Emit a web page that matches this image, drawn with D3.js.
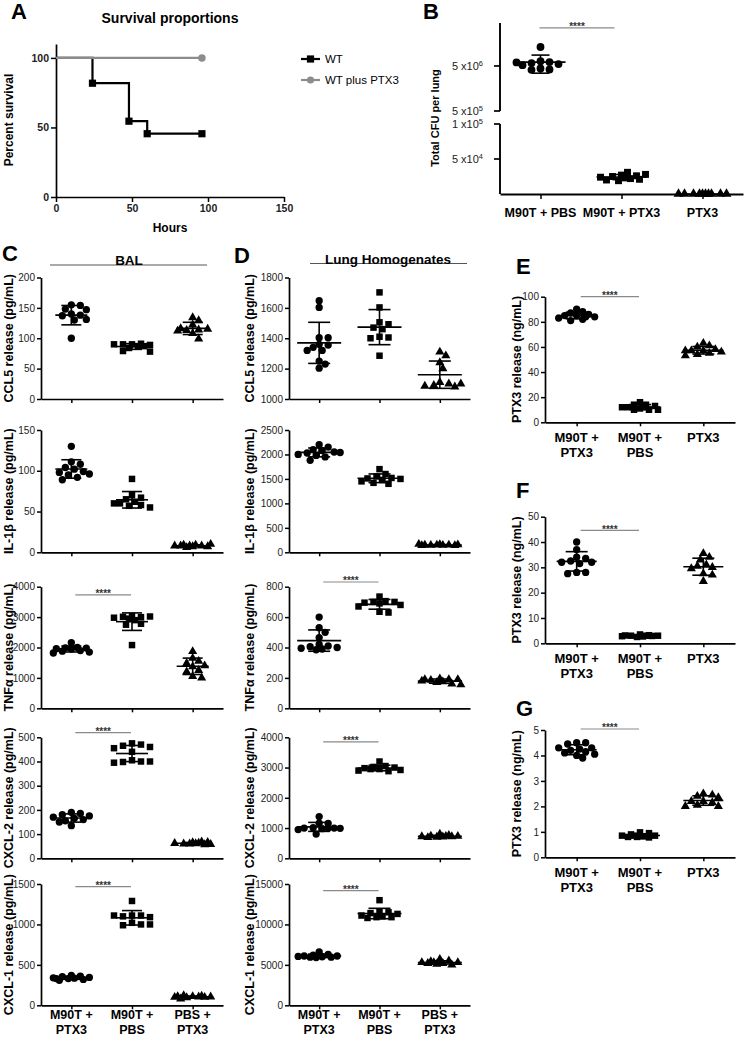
<!DOCTYPE html>
<html>
<head>
<meta charset="utf-8">
<script src="https://cdn.jsdelivr.net/npm/d3@7"></script>
<style>
  body { margin: 0; background: #fff; }
  svg { display: block; font-family: 'Liberation Sans', Arial, Helvetica, sans-serif; }
</style>
</head>
<body>
<div id="chart"></div>
<script>
// Values

// A: survival curves
const survHours = [0, 24, 48, 60, 96];
const survWT = [100, 81.8, 54.5, 45.5, 45.5];
const survPTX3Hours = [0, 96];
const survPTX3 = [100, 100];
const survTicksX = [0, 50, 100, 150];
const survTicksY = [0, 50, 100];

// B: CFU per lung
const cfuGroups = ['M90T + PBS', 'M90T + PTX3', 'PTX3'];
const cfuPBS = [13.2e6, 6.4e6, 6.1e6, 5.8e6, 5.5e6, 5.2e6, 4.4e6, 4.2e6, 4.1e6, 6.0e6];
const cfuM90TPTX3 = [27e3, 31e3, 25e3, 22e3, 20e3, 21e3, 24e3, 28e3, 23e3, 19e3, 26e3];
const cfuPTX3 = [0, 0, 0, 0, 0, 0, 0, 0, 0, 0];
const cfuTicksUpper = [5e5, 5e6];
const cfuTicksLower = [5e4, 1e5];

// C: BAL cytokines (groups: M90T+PTX3, M90T+PBS, PBS+PTX3)
const cytoGroups = [['M90T +', 'PTX3'], ['M90T +', 'PBS'], ['PBS +', 'PTX3']];
const balCCL5 = [
  [155, 154, 148, 147, 140, 138, 137, 131, 130, 100],
  [90, 91, 90, 89, 90, 86, 87, 84, 79, 78],
  [134, 129, 122, 114, 113, 115, 112, 116, 108, 99]
];
const balIL1b = [
  [130, 111, 108, 104, 102, 99, 98, 95, 92, 89, 96],
  [90, 70, 67, 65, 62, 60, 58, 57, 55, 60],
  [7, 8, 9, 10, 8, 7, 6, 9, 8, 8]
];
const balTNFa = [
  [2160, 2000, 1990, 1980, 1960, 1950, 1900, 1880, 1850, 1820],
  [3030, 3000, 3010, 3020, 2980, 2900, 2950, 2750, 2780, 2080],
  [1870, 1650, 1550, 1480, 1400, 1370, 1250, 1200, 1050, 1000]
];
const balCXCL2 = [
  [190, 185, 180, 175, 170, 165, 160, 155, 150, 135],
  [475, 470, 465, 460, 455, 440, 405, 400, 398, 400, 395],
  [65, 68, 60, 58, 62, 63, 57, 60, 66, 61]
];
const balCXCL1 = [
  [370, 360, 355, 345, 340, 335, 330, 320, 310, 330],
  [1290, 1110, 1110, 1100, 1090, 1110, 1020, 1000, 990, 1000],
  [110, 115, 120, 105, 100, 95, 80, 110, 105, 100]
];

// D: lung homogenate cytokines
const lungCCL5 = [
  [1647, 1603, 1404, 1404, 1360, 1355, 1340, 1320, 1320, 1250, 1230, 1203],
  [1702, 1603, 1505, 1492, 1470, 1460, 1410, 1405, 1400, 1285],
  [1310, 1285, 1240, 1200, 1110, 1100, 1090, 1080, 1085, 1100]
];
const lungIL1b = [
  [2200, 2150, 2100, 2080, 2050, 2030, 2000, 1980, 1950, 1880, 2040],
  [1700, 1600, 1550, 1520, 1510, 1500, 1480, 1450, 1420, 1400],
  [160, 150, 145, 155, 140, 150, 165, 145, 150, 140]
];
const lungTNFa = [
  [600, 530, 500, 465, 420, 410, 405, 400, 395, 390, 385],
  [735, 705, 700, 700, 695, 690, 680, 670, 635, 630],
  [195, 190, 185, 190, 180, 175, 170, 160, 155, 190]
];
const lungCXCL2 = [
  [1380, 1160, 1150, 1010, 1000, 1000, 990, 980, 950, 800, 1000],
  [3200, 3050, 3020, 3000, 2980, 2950, 2920, 2900, 2880, 2950],
  [800, 760, 740, 730, 720, 710, 700, 720, 730, 690]
];
const lungCXCL1 = [
  [6600, 6300, 6200, 6100, 6100, 6050, 6000, 5950, 5900, 5950],
  [13000, 11600, 11500, 11400, 11300, 11100, 11000, 10900, 10900, 10800],
  [5700, 5500, 5400, 5300, 5300, 5200, 5100, 5000, 5200, 5300]
];

// E, F, G: PTX3 release (groups: M90T+PTX3, M90T+PBS, PTX3)
const ptx3Groups = [['M90T +', 'PTX3'], ['M90T +', 'PBS'], ['PTX3']];
const ptx3E = [
  [90, 88, 87, 86, 85, 85, 84, 83, 82, 81, 84],
  [16, 14, 14, 13, 12, 12, 11, 10, 10, 10, 12],
  [63, 61, 60, 58, 57, 57, 56, 55, 54, 53, 57]
];
const ptx3F = [
  [40, 37, 34, 33.5, 32.5, 32, 32, 31.5, 28, 28, 27.5],
  [3.5, 3.2, 3, 3, 2.8, 2.7, 2.5, 3.1, 2.9, 3],
  [35.5, 34, 33, 31, 30.5, 30, 29.5, 27.5, 27, 24.5]
];
const ptx3G = [
  [4.5, 4.5, 4.45, 4.3, 4.25, 4.2, 4.15, 4.1, 4.05, 4.0, 3.9, 4.3],
  [0.98, 0.95, 0.9, 0.85, 0.85, 0.82, 0.8, 0.78, 0.8, 0.85],
  [2.5, 2.45, 2.4, 2.35, 2.2, 2.2, 2.15, 2.05, 2.0, 2.0]
];

const svg = d3.select('#chart')
  .append('svg')
  .attr('width', 746)
  .attr('height', 1038);

svg.append('rect').attr('width', 746).attr('height', 1038).attr('fill', '#fff');

const shapes = [d3.symbolCircle, d3.symbolSquare, d3.symbolTriangle];
const shapeSizes = [42, 42, 36];
const tickColor = '#222';
const sigColor = '#8a8a8a';
const plainNum = d3.format('d');

// Shared axis styling
function styleAxis(g, fontSize, weight) {
  g.attr('font-family', null).attr('font-size', null);
  g.select('.domain').attr('stroke', '#000').attr('stroke-width', 1.7);
  g.selectAll('.tick line').attr('stroke', '#000').attr('stroke-width', 1.5);
  g.selectAll('.tick text')
    .style('font-size', fontSize + 'px')
    .style('font-weight', weight)
    .attr('fill', tickColor);
}

function panelLetter(letter, x, y) {
  svg.append('text')
    .attr('x', x).attr('y', y)
    .style('font-size', '22px').style('font-weight', '700')
    .text(letter);
}

function yLabel(text, x, cy, size) {
  svg.append('text')
    .attr('transform', `translate(${x},${cy}) rotate(-90)`)
    .attr('text-anchor', 'middle')
    .attr('dy', '0.35em')
    .style('font-size', size + 'px').style('font-weight', '700')
    .text(text);
}

// Spread points sideways so they do not sit on top of each other
function dodge(ys, minDist, step, maxHalf) {
  const placed = [];
  return ys.map(py => {
    let best = 0, bestScore = -1;
    for (let k = 0; k * step <= maxHalf; k++) {
      const opts = k === 0 ? [0] : [k * step, -k * step];
      for (const dx of opts) {
        const d = placed.length ? d3.min(placed, p => Math.hypot(p[0] - dx, p[1] - py)) : Infinity;
        if (d >= minDist) { placed.push([dx, py]); return dx; }
        if (d > bestScore) { bestScore = d; best = dx; }
      }
    }
    placed.push([best, py]);
    return best;
  });
}

// Mean line with SD whiskers
function meanSD(g, cx, yMean, yHi, yLo, meanW, capW) {
  [[cx - meanW / 2, yMean, cx + meanW / 2, yMean],
   [cx, yHi, cx, yLo],
   [cx - capW / 2, yHi, cx + capW / 2, yHi],
   [cx - capW / 2, yLo, cx + capW / 2, yLo]].forEach(l => {
    g.append('line')
      .attr('x1', l[0]).attr('y1', l[1]).attr('x2', l[2]).attr('y2', l[3])
      .attr('stroke', '#000').attr('stroke-width', 1.6);
  });
}

function sigBar(g, x1, x2, y) {
  g.append('line')
    .attr('x1', x1).attr('x2', x2).attr('y1', y).attr('y2', y)
    .attr('stroke', sigColor).attr('stroke-width', 1.2);
  g.append('text')
    .attr('x', (x1 + x2) / 2).attr('y', y + 2.5)
    .attr('text-anchor', 'middle')
    .style('font-size', '10px').style('font-weight', '700')
    .attr('fill', '#333')
    .text('****');
}

// ---------- Panel A ----------
(function() {
  const x = d3.scaleLinear().domain([0, 150]).range([56, 284]);
  const y = d3.scaleLinear().domain([0, 110]).range([197, 44]);

  const xAxis = svg.append('g').attr('transform', 'translate(0,197)')
    .call(d3.axisBottom(x).tickValues(survTicksX).tickSize(5).tickSizeOuter(0).tickPadding(3));
  styleAxis(xAxis, 10.5, 700);
  const yAxis = svg.append('g').attr('transform', 'translate(56,0)')
    .call(d3.axisLeft(y).tickValues(survTicksY).tickSize(5).tickSizeOuter(0).tickPadding(2));
  styleAxis(yAxis, 10.5, 700);

  const line = d3.line().curve(d3.curveStepAfter).x(d => x(d[0])).y(d => y(d[1]));

  const wt = survHours.map((h, i) => [h, survWT[i]]);
  svg.append('path').attr('d', line(wt))
    .attr('fill', 'none').attr('stroke', '#000').attr('stroke-width', 2.2);
  svg.selectAll('.wt-pt').data(wt.slice(1)).enter().append('path')
    .attr('d', d3.symbol().type(d3.symbolSquare).size(52))
    .attr('transform', d => `translate(${x(d[0])},${y(d[1])})`);

  const ptx = survPTX3Hours.map((h, i) => [h, survPTX3[i]]);
  svg.append('path').attr('d', line(ptx))
    .attr('fill', 'none').attr('stroke', '#8c8c8c').attr('stroke-width', 2.2);
  svg.selectAll('.ptx-pt').data(ptx.slice(1)).enter().append('path')
    .attr('d', d3.symbol().type(d3.symbolCircle).size(44))
    .attr('fill', '#8c8c8c')
    .attr('transform', d => `translate(${x(d[0])},${y(d[1])})`);

  svg.append('text').attr('x', 170).attr('y', 23).attr('text-anchor', 'middle')
    .style('font-size', '14px').style('font-weight', '700').text('Survival proportions');
  svg.append('text').attr('x', 170).attr('y', 232).attr('text-anchor', 'middle')
    .style('font-size', '12px').style('font-weight', '700').text('Hours');
  yLabel('Percent survival', 9, 120, 12);
  panelLetter('A', 11, 19);

  // legend
  const legend = [
    { name: 'WT', color: '#000', shape: d3.symbolSquare, size: 52, y: 59 },
    { name: 'WT plus PTX3', color: '#8c8c8c', shape: d3.symbolCircle, size: 40, y: 80 }
  ];
  legend.forEach(d => {
    svg.append('line').attr('x1', 301).attr('x2', 320).attr('y1', d.y).attr('y2', d.y)
      .attr('stroke', d.color).attr('stroke-width', 2.2);
    svg.append('path').attr('d', d3.symbol().type(d.shape).size(d.size)())
      .attr('fill', d.color).attr('transform', `translate(310.5,${d.y})`);
    svg.append('text').attr('x', 325).attr('y', d.y).attr('dy', '0.35em')
      .style('font-size', '11.5px').text(d.name);
  });
})();

// ---------- Panel B ----------
(function() {
  const left = 500, right = 743;
  const x = d3.scalePoint().domain([0, 1, 2]).range([left, right]).padding(0.5);
  const yLog = d3.scaleLog().domain([5e5, 4.5e7]).range([111, 23]);
  const yLin = d3.scaleLinear().domain([0, 1e5]).range([194, 124]);
  const y = v => v >= 5e5 ? yLog(v) : yLin(v);
  const g = svg.append('g');

  // broken y axis
  [yLog.range(), yLin.range()].forEach(r => {
    g.append('line').attr('x1', left).attr('x2', left).attr('y1', r[0]).attr('y2', r[1])
      .attr('stroke', '#000').attr('stroke-width', 1.9);
  });
  const ticks = cfuTicksUpper.map(v => [v, yLog(v)]).concat(cfuTicksLower.map(v => [v, yLin(v)]));
  ticks.forEach(t => {
    g.append('line').attr('x1', left - 6).attr('x2', left).attr('y1', t[1]).attr('y2', t[1])
      .attr('stroke', '#000').attr('stroke-width', 1.7);
    const exp = Math.floor(Math.log10(t[0]));
    const mant = Math.round(t[0] / Math.pow(10, exp));
    const txt = g.append('text').attr('x', left - 17).attr('y', t[1]).attr('dy', '0.35em')
      .attr('text-anchor', 'end').attr('fill', tickColor).style('font-size', '11px');
    txt.append('tspan').text(mant + ' x10');
    txt.append('tspan').attr('dy', '-4').style('font-size', '7.5px').text(exp);
  });

  const xAxis = g.append('g').attr('transform', 'translate(0,194)')
    .call(d3.axisBottom(x).tickSize(5).tickSizeOuter(0).tickFormat(''));
  styleAxis(xAxis, 10, 400);
  xAxis.select('.domain').attr('stroke-width', 1.9);

  const groups = [cfuPBS, cfuM90TPTX3, cfuPTX3];
  groups.forEach((vals, gi) => {
    const dx = dodge(vals.map(y), 6.5, 3, 24);
    g.selectAll(null).data(vals).enter().append('path')
      .attr('d', d3.symbol().type(shapes[gi]).size(shapeSizes[gi] + 6))
      .attr('transform', (d, i) => `translate(${x(gi) + dx[i]},${y(d)})`);
    const m = d3.mean(vals), sd = d3.deviation(vals);
    meanSD(g, x(gi), y(m), y(m + sd), y(Math.max(m - sd, 0)), 50, 18);
  });

  sigBar(g, x(0) - 1, x(1) - 7, yLog(3.5e7));

  cfuGroups.forEach((name, i) => {
    g.append('text').attr('x', x(i)).attr('y', 216.5).attr('text-anchor', 'middle')
      .style('font-size', '12.5px').style('font-weight', '700').text(name);
  });
  yLabel('Total CFU per lung', 435, 118, 11);
  panelLetter('B', 423, 19);
})();

// ---------- Dot plot panels C to G ----------
const colC = { left: 41, right: 223, yLabelX: 9, meanW: 32, capW: 20, spread: 20, labelSize: 12.5 };
const colD = { left: 289, right: 470, yLabelX: 250, meanW: 44, capW: 22, spread: 22, labelSize: 12.5 };
const colE = { left: 545, right: 735, yLabelX: 517, meanW: 40, capW: 22, spread: 20, labelSize: 12.5 };
const rowsCD = [[277.5, 399], [430, 552.3], [586.7, 708.3], [737.3, 858.3], [884, 1005.3]];

function drawDotPanel(p) {
  const g = svg.append('g');
  const x = d3.scalePoint().domain([0, 1, 2]).range([p.col.left, p.col.right]).padding(0.5);
  const y = d3.scaleLinear().domain(p.domain).range([p.row[1], p.row[0]]);

  const yAxis = g.append('g').attr('transform', `translate(${p.col.left},0)`)
    .call(d3.axisLeft(y).tickValues(p.ticks).tickFormat(plainNum)
      .tickSize(4).tickSizeOuter(0).tickPadding(2));
  styleAxis(yAxis, 10, 400);
  const xAxis = g.append('g').attr('transform', `translate(0,${p.row[1]})`)
    .call(d3.axisBottom(x).tickSize(4).tickSizeOuter(0).tickFormat(''));
  styleAxis(xAxis, 10, 400);

  p.data.forEach((vals, gi) => {
    const dx = dodge(vals.map(y), 6.5, 3, p.col.spread);
    g.selectAll(null).data(vals).enter().append('path')
      .attr('d', d3.symbol().type(shapes[gi]).size(shapeSizes[gi]))
      .attr('transform', (d, i) => `translate(${x(gi) + dx[i]},${y(d)})`);
    const m = d3.mean(vals), sd = d3.deviation(vals);
    meanSD(g, x(gi), y(m), y(m + sd), y(m - sd), p.col.meanW, p.col.capW);
  });

  if (p.sig) sigBar(g, x(0) + 4, x(1) - 1, y(p.sig));

  yLabel(p.label, p.col.yLabelX, (p.row[0] + p.row[1]) / 2, p.col.labelSize);

  if (p.groups) {
    p.groups.forEach((lines, i) => {
      lines.forEach((t, j) => {
        g.append('text').attr('x', x(i)).attr('y', p.row[1] + p.labelDy[j])
          .attr('text-anchor', 'middle')
          .style('font-size', p.groupSize + 'px').style('font-weight', '700')
          .text(t);
      });
    });
  }
}

const panels = [
  { col: colC, row: rowsCD[0], domain: [0, 200], ticks: [0, 50, 100, 150, 200], data: balCCL5, label: 'CCL5 release (pg/mL)' },
  { col: colC, row: rowsCD[1], domain: [0, 150], ticks: [0, 50, 100, 150], data: balIL1b, label: 'IL-1β release (pg/mL)' },
  { col: colC, row: rowsCD[2], domain: [0, 4000], ticks: [0, 1000, 2000, 3000, 4000], data: balTNFa, label: 'TNFα release (pg/mL)', sig: 3730 },
  { col: colC, row: rowsCD[3], domain: [0, 500], ticks: [0, 100, 200, 300, 400, 500], data: balCXCL2, label: 'CXCL-2 release (pg/mL)', sig: 519 },
  { col: colC, row: rowsCD[4], domain: [0, 1500], ticks: [0, 500, 1000, 1500], data: balCXCL1, label: 'CXCL-1 release (pg/mL)', sig: 1467,
    groups: cytoGroups, labelDy: [14, 28.5], groupSize: 12.5 },
  { col: colD, row: rowsCD[0], domain: [1000, 1800], ticks: [1000, 1200, 1400, 1600, 1800], data: lungCCL5, label: 'CCL5 release (pg/mL)' },
  { col: colD, row: rowsCD[1], domain: [0, 2500], ticks: [0, 500, 1000, 1500, 2000, 2500], data: lungIL1b, label: 'IL-1β release (pg/mL)' },
  { col: colD, row: rowsCD[2], domain: [0, 800], ticks: [0, 200, 400, 600, 800], data: lungTNFa, label: 'TNFα release (pg/mL)', sig: 831 },
  { col: colD, row: rowsCD[3], domain: [0, 4000], ticks: [0, 1000, 2000, 3000, 4000], data: lungCXCL2, label: 'CXCL-2 release (pg/mL)', sig: 3850 },
  { col: colD, row: rowsCD[4], domain: [0, 15000], ticks: [0, 5000, 10000, 15000], data: lungCXCL1, label: 'CXCL-1 release (pg/mL)', sig: 14170,
    groups: cytoGroups, labelDy: [14, 28.5], groupSize: 12.5 },
  { col: colE, row: [296.7, 422.3], domain: [0, 100], ticks: [0, 20, 40, 60, 80, 100], data: ptx3E, label: 'PTX3 release (ng/mL)', sig: 100,
    groups: ptx3Groups, labelDy: [19.5, 35], groupSize: 13 },
  { col: colE, row: [516.7, 643.3], domain: [0, 50], ticks: [0, 10, 20, 30, 40, 50], data: ptx3F, label: 'PTX3 release (ng/mL)', sig: 44.6,
    groups: ptx3Groups, labelDy: [19.5, 35], groupSize: 13 },
  { col: colE, row: [730, 857.3], domain: [0, 5], ticks: [0, 1, 2, 3, 4, 5], data: ptx3G, label: 'PTX3 release (ng/mL)', sig: 5.04,
    groups: ptx3Groups, labelDy: [19.5, 35], groupSize: 13 }
];

panels.forEach(drawDotPanel);

// Column headers with rules
[
  { text: 'BAL', cx: 129, x1: 50, x2: 207, y: 265 },
  { text: 'Lung Homogenates', cx: 388, x1: 310, x2: 467, y: 263.5 }
].forEach(h => {
  svg.append('line').attr('x1', h.x1).attr('x2', h.x2).attr('y1', h.y).attr('y2', h.y)
    .attr('stroke', '#555').attr('stroke-width', 1);
  svg.append('text').attr('x', h.cx).attr('y', h.y).attr('text-anchor', 'middle')
    .style('font-size', '13.5px').style('font-weight', '700').text(h.text);
});

panelLetter('C', 2, 261);
panelLetter('D', 234, 263);
panelLetter('E', 516, 274);
panelLetter('F', 516, 498);
panelLetter('G', 516, 716);
</script>
</body>
</html>
